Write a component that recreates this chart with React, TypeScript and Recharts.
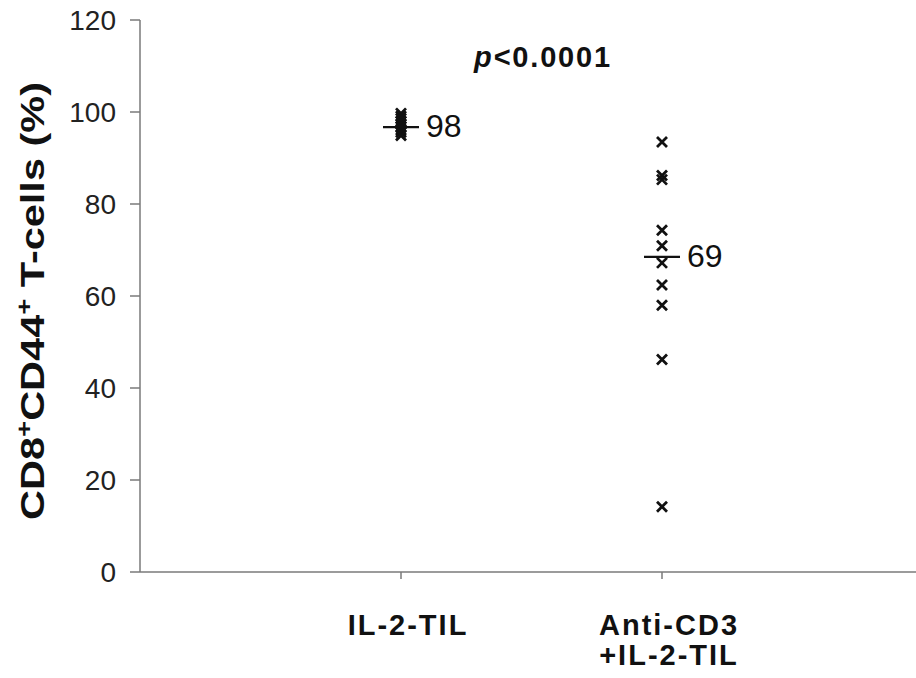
import {
  ScatterChart,
  Scatter,
  XAxis,
  YAxis,
  Label,
  Customized,
} from 'recharts';

// groups on the x axis (1 and 2), label lines for each
const groups = [1, 2];
const groupLabels = [['IL-2-TIL'], ['Anti-CD3', '+IL-2-TIL']];

// CD8+CD44+ % per animal
const il2Values = [99.7, 99.1, 98.6, 98.0, 97.4, 96.8, 96.1, 95.6, 94.9];
const antiCd3Values = [93.5, 86.2, 85.3, 74.3, 70.9, 67.2, 62.4, 58.0, 46.2, 14.2];

// median bar position and the printed median label
const medianValues = [96.7, 68.5];
const medianLabels = ['98', '69'];

const yTicks = [0, 20, 40, 60, 80, 100, 120];

const il2Data = il2Values.map(v => ({ x: groups[0], y: v }));
const antiData = antiCd3Values.map(v => ({ x: groups[1], y: v }));
const medianData = medianValues.map((v, i) => ({ x: groups[i], y: v, label: medianLabels[i] }));

const FONT = '"Liberation Sans", Arial, sans-serif';
const AXIS = '#7a7a7a';
const INK = '#111';

const Cross = (props: any) => {
  const { cx, cy } = props;
  const r = 5;
  return (
    <path
      d={`M${cx - r},${cy - r}L${cx + r},${cy + r}M${cx - r},${cy + r}L${cx + r},${cy - r}`}
      stroke={INK}
      strokeWidth={2.8}
      fill="none"
    />
  );
};

const MedianMark = (props: any) => {
  const { cx, cy, payload } = props;
  return (
    <g>
      <line x1={cx - 18} x2={cx + 18} y1={cy} y2={cy} stroke={INK} strokeWidth={2.2} />
      <text x={cx + 25} y={cy + 10} fontSize={32} fontFamily={FONT} fill={INK}>
        {payload.label}
      </text>
    </g>
  );
};

const XTick = (props: any) => {
  const { x, y, payload } = props;
  const lines = groupLabels[payload.value - 1] || [];
  return (
    <g>
      {lines.map((line, i) => (
        <text
          key={i}
          x={x + 7}
          y={y + 54 + i * 30}
          textAnchor="middle"
          fontSize={29}
          fontWeight="bold"
          letterSpacing={2}
          fontFamily={FONT}
          fill={INK}
        >
          {line}
        </text>
      ))}
    </g>
  );
};

const YTitle = () => (
  <text
    x={44}
    y={301}
    transform="rotate(-90, 44, 301)"
    textAnchor="middle"
    fontSize={33}
    fontWeight="bold"
    fontFamily={FONT}
    fill={INK}
    textLength={438}
    lengthAdjust="spacingAndGlyphs"
  >
    CD8<tspan dy={-12} fontSize={22}>+</tspan>
    <tspan dy={12}>CD44</tspan>
    <tspan dy={-12} fontSize={22}>+</tspan>
    <tspan dy={12}> T-cells (%)</tspan>
  </text>
);

const PValue = () => (
  <text
    x={543}
    y={67}
    textAnchor="middle"
    fontSize={29}
    fontWeight="bold"
    letterSpacing={1.8}
    fontFamily={FONT}
    fill={INK}
  >
    <tspan fontStyle="italic">p</tspan>
    {'<0.0001'}
  </text>
);

export default function App() {
  return (
    <div
      style={{
        position: 'absolute',
        left: 0,
        top: 0,
        width: 916,
        height: 678,
        overflow: 'hidden',
        background: '#fff',
      }}
    >
      <ScatterChart
        width={923}
        height={678}
        margin={{ top: 20, right: 0, bottom: 0, left: 0 }}
      >
        <XAxis
          type="number"
          dataKey="x"
          domain={[0, 3]}
          ticks={groups}
          height={106}
          stroke={AXIS}
          strokeWidth={1.5}
          tickSize={7}
          tick={<XTick />}
        />
        <YAxis
          type="number"
          dataKey="y"
          domain={[0, 120]}
          ticks={yTicks}
          width={140}
          stroke={AXIS}
          strokeWidth={1.5}
          tickSize={10}
          tickMargin={14}
          tick={{ fontSize: 28, fontFamily: FONT, fill: '#222' }}
        >
          <Label content={() => <YTitle />} />
        </YAxis>
        <Scatter data={il2Data} shape={Cross} isAnimationActive={false} />
        <Scatter data={antiData} shape={Cross} isAnimationActive={false} />
        <Scatter data={medianData} shape={MedianMark} isAnimationActive={false} />
        <Customized component={PValue} />
      </ScatterChart>
    </div>
  );
}
